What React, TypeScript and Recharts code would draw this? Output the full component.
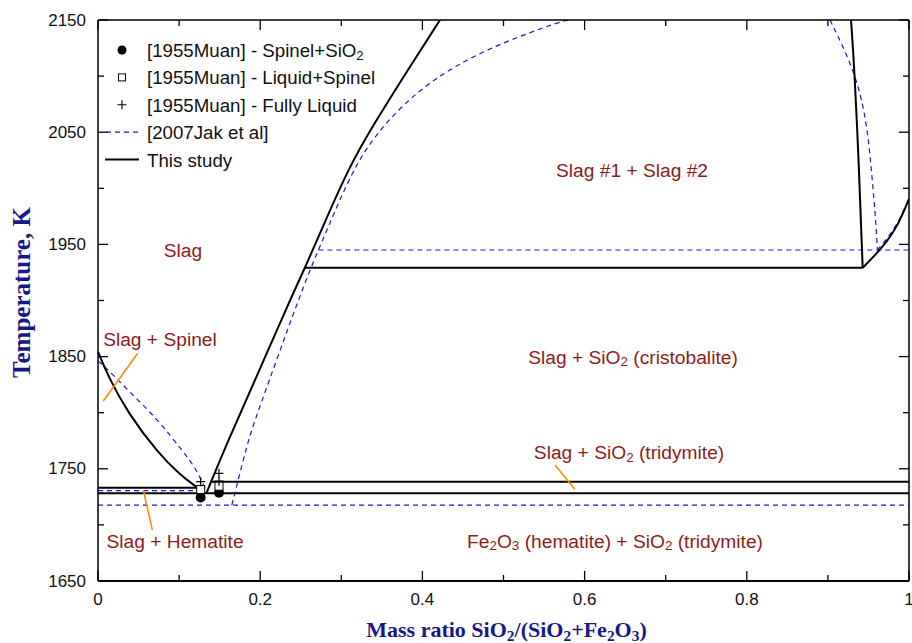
import React from 'react';
import {
  ComposedChart,
  Line,
  Scatter,
  XAxis,
  YAxis,
  Legend,
  ReferenceLine,
  ReferenceDot,
} from 'recharts';

const SANS = 'Arial, "Liberation Sans", sans-serif';
const SERIF = '"Times New Roman", "Liberation Serif", serif';
const TITLE_COLOR = '#17178a';
const REGION_COLOR = '#8b1c1c';
const JAK_BLUE = '#1414f0';
const POINTER_COLOR = '#ff8a00';

// axis ticks (x = SiO2/(SiO2+Fe2O3) mass ratio, t = temperature in K)
const xTicks = [0, 0.1, 0.2, 0.3, 0.4, 0.5, 0.6, 0.7, 0.8, 0.9, 1];
const xLabelled = [0, 0.2, 0.4, 0.6, 0.8, 1];
const yTicks = [1650, 1700, 1750, 1800, 1850, 1900, 1950, 2000, 2050, 2100, 2150];
const yLabelled = [1650, 1750, 1850, 1950, 2050, 2150];

// [1955Muan] measurements
const muanSpinelSiO2 = [
  { x: 0.1266, t: 1724.5 },
  { x: 0.1492, t: 1728.7 },
];
const muanLiquidSpinel = [
  { x: 0.1266, t: 1731.5 },
  { x: 0.1492, t: 1734.5 },
];
const muanFullyLiquid = [
  { x: 0.1266, t: 1738.5 },
  { x: 0.1492, t: 1746 },
  { x: 0.1492, t: 1739 },
];

// This study
const spinelLiquidus = [
  { x: 0, t: 1854.4 },
  { x: 0.0127, t: 1832 },
  { x: 0.037, t: 1799.5 },
  { x: 0.0744, t: 1763.8 },
  { x: 0.099, t: 1746 },
  { x: 0.1196, t: 1734.5 },
  { x: 0.13, t: 1730 },
];
const spinelHematiteLine = [
  { x: 0, t: 1733.2 },
  { x: 0.128, t: 1733.2 },
];
const tridymiteSolidus = [
  { x: 0, t: 1728.2 },
  { x: 1, t: 1728.2 },
];
const tridymiteLiquidus = [
  { x: 0.14, t: 1738.5 },
  { x: 1, t: 1738.5 },
];
const silicaLiquidus = [
  { x: 0.1336, t: 1728.2 },
  { x: 0.1607, t: 1775.7 },
  { x: 0.1936, t: 1829 },
  { x: 0.2408, t: 1907 },
  { x: 0.2552, t: 1929 },
  { x: 0.2737, t: 1960 },
  { x: 0.3107, t: 2020.8 },
  { x: 0.3395, t: 2056.4 },
  { x: 0.3806, t: 2104 },
  { x: 0.4217, t: 2150 },
];
const monotecticLine = [
  { x: 0.2552, t: 1929.2 },
  { x: 0.9429, t: 1929.2 },
];
const gapRightBranch = [
  { x: 0.9285, t: 2150 },
  { x: 0.9326, t: 2108 },
  { x: 0.9383, t: 2019 },
  { x: 0.9412, t: 1960 },
  { x: 0.9429, t: 1929.2 },
];
const cristobaliteLiquidus = [
  { x: 0.9429, t: 1929.2 },
  { x: 0.958, t: 1940.2 },
  { x: 0.9729, t: 1952.7 },
  { x: 0.9864, t: 1967 },
  { x: 1, t: 1990.5 },
];

// [2007Jak et al]
const jakSpinelLiquidus = [
  { x: 0, t: 1846 },
  { x: 0.0086, t: 1841 },
  { x: 0.037, t: 1820 },
  { x: 0.0744, t: 1793.5 },
  { x: 0.103, t: 1766.8 },
  { x: 0.1196, t: 1751.9 },
  { x: 0.133, t: 1731 },
];
const jakSpinelLine = [
  { x: 0, t: 1730.5 },
  { x: 0.133, t: 1730.5 },
];
const jakTridymiteLine = [
  { x: 0, t: 1717.7 },
  { x: 1, t: 1717.7 },
];
const jakSilicaLiquidus = [
  { x: 0.165, t: 1717.7 },
  { x: 0.1853, t: 1775.7 },
  { x: 0.1936, t: 1793.5 },
  { x: 0.251, t: 1909 },
  { x: 0.2717, t: 1945 },
  { x: 0.29, t: 1976 },
  { x: 0.319, t: 2023.7 },
  { x: 0.3518, t: 2056.4 },
  { x: 0.393, t: 2086 },
  { x: 0.438, t: 2108.4 },
  { x: 0.4957, t: 2129.2 },
  { x: 0.5697, t: 2148.5 },
  { x: 0.58, t: 2150 },
];
const jakMonotecticLine = [
  { x: 0.2717, t: 1945 },
  { x: 1, t: 1945 },
];
const jakGapRightBranch = [
  { x: 0.9026, t: 2150 },
  { x: 0.933, t: 2105 },
  { x: 0.9478, t: 2061 },
  { x: 0.954, t: 2013.6 },
  { x: 0.9593, t: 1969 },
  { x: 0.961, t: 1945 },
];
const jakCristobaliteLiquidus = [
  { x: 0.961, t: 1945 },
  { x: 0.975, t: 1957 },
  { x: 0.988, t: 1971 },
  { x: 1, t: 1991 },
];

const studyCurves = [
  spinelLiquidus,
  spinelHematiteLine,
  tridymiteSolidus,
  tridymiteLiquidus,
  silicaLiquidus,
  monotecticLine,
  gapRightBranch,
  cristobaliteLiquidus,
];
const jakCurves = [
  jakSpinelLiquidus,
  jakSpinelLine,
  jakTridymiteLine,
  jakSilicaLiquidus,
  jakMonotecticLine,
  jakGapRightBranch,
  jakCristobaliteLiquidus,
];

// phase field names ("_2" = subscript 2)
const regionLabels = [
  { x: 0.6585, t: 2016, text: 'Slag #1 + Slag #2' },
  { x: 0.1048, t: 1945, text: 'Slag' },
  { x: 0.0764, t: 1866, text: 'Slag + Spinel' },
  { x: 0.6597, t: 1850, text: 'Slag + SiO_2 (cristobalite)' },
  { x: 0.6548, t: 1765, text: 'Slag + SiO_2 (tridymite)' },
  { x: 0.095, t: 1686, text: 'Slag + Hematite' },
  { x: 0.6375, t: 1686, text: 'Fe_2O_3 (hematite) + SiO_2 (tridymite)' },
];

// leader lines from labels to narrow fields
const pointers = [
  [{ x: 0.049, y: 1853 }, { x: 0.0065, y: 1810.4 }],
  [{ x: 0.0559, y: 1731.1 }, { x: 0.067, y: 1695.5 }],
  [{ x: 0.5635, y: 1753.4 }, { x: 0.588, y: 1731.7 }],
];

const legendRows = [
  { name: '[1955Muan] - Spinel+SiO_2', kind: 'circle' },
  { name: '[1955Muan] - Liquid+Spinel', kind: 'square' },
  { name: '[1955Muan] - Fully Liquid', kind: 'plus' },
  { name: '[2007Jak et al]', kind: 'dashed' },
  { name: 'This study', kind: 'solid' },
];

// split "SiO_2" style strings into tspans with subscripts
const chem = (s: string, fs: number) => {
  const parts = s.split(/(_\d)/).filter((p) => p !== '');
  const shift = fs * 0.25;
  let lowered = false;
  return parts.map((p, i) => {
    if (p.startsWith('_')) {
      lowered = true;
      return (
        <tspan key={i} dy={shift} fontSize={fs * 0.7}>
          {p.slice(1)}
        </tspan>
      );
    }
    const dy = lowered ? -shift : 0;
    lowered = false;
    return (
      <tspan key={i} dy={dy}>
        {p}
      </tspan>
    );
  });
};

const MAJOR = 10;
const MINOR = 6;
const LABEL_FS = 19.2;
const LEGEND_FS = 18.7;

const BottomTick = (props: any) => {
  const { x, y, payload } = props;
  const major = xLabelled.includes(payload.value);
  return (
    <g>
      <line x1={x} x2={x} y1={y} y2={y - (major ? MAJOR : MINOR)} stroke="#000" strokeWidth={1.3} />
      {major && (
        <text x={x} y={y + 18} textAnchor="middle" dominantBaseline="central" fontSize={17} fontFamily={SANS} fill="#111">
          {String(payload.value)}
        </text>
      )}
    </g>
  );
};

const TopTick = (props: any) => {
  const { x, y, payload } = props;
  const major = xLabelled.includes(payload.value);
  return <line x1={x} x2={x} y1={y} y2={y + (major ? MAJOR : MINOR)} stroke="#000" strokeWidth={1.3} />;
};

const LeftTick = (props: any) => {
  const { x, y, payload } = props;
  const major = yLabelled.includes(payload.value);
  return (
    <g>
      <line x1={x} x2={x + (major ? MAJOR : MINOR)} y1={y} y2={y} stroke="#000" strokeWidth={1.3} />
      {major && (
        <text x={x - 12} y={y} textAnchor="end" dominantBaseline="central" fontSize={17} fontFamily={SANS} fill="#111">
          {payload.value}
        </text>
      )}
    </g>
  );
};

const RightTick = (props: any) => {
  const { x, y, payload } = props;
  const major = yLabelled.includes(payload.value);
  return <line x1={x} x2={x - (major ? MAJOR : MINOR)} y1={y} y2={y} stroke="#000" strokeWidth={1.3} />;
};

const XTitle = (props: any) => {
  const vb = props.viewBox || { x: 98, y: 581, width: 811, height: 62 };
  return (
    <text
      x={vb.x + vb.width / 2 + 3}
      y={vb.y + 48}
      textAnchor="middle"
      dominantBaseline="central"
      fontFamily={SERIF}
      fontWeight="bold"
      fontSize={22}
      fill={TITLE_COLOR}
    >
      {chem('Mass ratio SiO_2/(SiO_2+Fe_2O_3)', 22)}
    </text>
  );
};

const YTitle = (props: any) => {
  const vb = props.viewBox || { x: 0, y: 20, width: 98, height: 561 };
  const cx = vb.x + 21;
  const cy = vb.y + vb.height / 2 - 8;
  return (
    <text
      x={cx}
      y={cy}
      transform={`rotate(-90 ${cx} ${cy})`}
      textAnchor="middle"
      dominantBaseline="central"
      fontFamily={SERIF}
      fontWeight="bold"
      fontSize={25}
      fill={TITLE_COLOR}
    >
      Temperature, K
    </text>
  );
};

const FilledDot = (p: any) => <circle cx={p.cx} cy={p.cy} r={5} fill="#000" />;
const OpenSquare = (p: any) => (
  <rect x={p.cx - 4} y={p.cy - 4} width={8} height={8} fill="#fff" stroke="#000" strokeWidth={1} />
);
const PlusMark = (p: any) => (
  <path
    d={`M${p.cx - 4.5},${p.cy}H${p.cx + 4.5}M${p.cx},${p.cy - 4.5}V${p.cy + 4.5}`}
    stroke="#000"
    strokeWidth={1.2}
    fill="none"
  />
);

const renderLegend = () => (
  <svg width={340} height={140} style={{ overflow: 'visible' }}>
    {legendRows.map((row, i) => {
      const cy = 14 + i * 27.4;
      let symbol: React.ReactNode = null;
      if (row.kind === 'circle') symbol = <circle cx={22} cy={cy} r={4.5} fill="#000" />;
      if (row.kind === 'square')
        symbol = <rect x={18.5} y={cy - 3.5} width={7} height={7} fill="#fff" stroke="#000" strokeWidth={1} />;
      if (row.kind === 'plus')
        symbol = <path d={`M17.5,${cy}H26.5M22,${cy - 4.5}V${cy + 4.5}`} stroke="#000" strokeWidth={1.1} />;
      if (row.kind === 'dashed')
        symbol = <line x1={6} x2={39} y1={cy} y2={cy} stroke={JAK_BLUE} strokeWidth={1.2} strokeDasharray="5 4" />;
      if (row.kind === 'solid') symbol = <line x1={5} x2={39} y1={cy} y2={cy} stroke="#000" strokeWidth={2} />;
      return (
        <g key={row.name}>
          {symbol}
          <text x={47} y={cy} dominantBaseline="central" fontSize={LEGEND_FS} fontFamily={SANS} fill="#111">
            {chem(row.name, LEGEND_FS)}
          </text>
        </g>
      );
    })}
  </svg>
);

export default function App() {
  return (
    <div style={{ position: 'absolute', left: 0, top: 0, width: 912, height: 643, background: '#fff' }}>
      <ComposedChart width={912} height={643} margin={{ top: 0, right: 0, bottom: 0, left: 0 }}>
        <XAxis
          dataKey="x"
          type="number"
          domain={[0, 1]}
          ticks={xTicks}
          interval={0}
          allowDataOverflow
          height={62}
          tickSize={0}
          tickMargin={0}
          tick={BottomTick}
          axisLine={{ stroke: '#000', strokeWidth: 2 }}
          label={{ content: XTitle }}
        />
        <XAxis
          xAxisId="top"
          orientation="top"
          dataKey="x"
          type="number"
          domain={[0, 1]}
          ticks={xTicks}
          interval={0}
          allowDataOverflow
          height={20}
          tickSize={0}
          tickMargin={0}
          tick={TopTick}
          axisLine={{ stroke: '#000', strokeWidth: 1.5 }}
        />
        <YAxis
          dataKey="t"
          type="number"
          domain={[1650, 2150]}
          ticks={yTicks}
          interval={0}
          allowDataOverflow
          width={98}
          tickSize={0}
          tickMargin={0}
          tick={LeftTick}
          axisLine={{ stroke: '#000', strokeWidth: 1.5 }}
          label={{ content: YTitle }}
        />
        <YAxis
          yAxisId="right"
          orientation="right"
          dataKey="t"
          type="number"
          domain={[1650, 2150]}
          ticks={yTicks}
          interval={0}
          allowDataOverflow
          width={3}
          tickSize={0}
          tickMargin={0}
          tick={RightTick}
          axisLine={{ stroke: '#000', strokeWidth: 1.5 }}
        />

        {jakCurves.map((d, i) => (
          <Line
            key={`jak-${i}`}
            data={d}
            dataKey="t"
            type="basis"
            stroke={JAK_BLUE}
            strokeWidth={1.2}
            strokeDasharray="5 4"
            dot={false}
            activeDot={false}
            legendType="none"
            isAnimationActive={false}
          />
        ))}
        {studyCurves.map((d, i) => (
          <Line
            key={`study-${i}`}
            data={d}
            dataKey="t"
            type="basis"
            stroke="#000"
            strokeWidth={2}
            dot={false}
            activeDot={false}
            legendType="none"
            isAnimationActive={false}
          />
        ))}

        {pointers.map((seg, i) => (
          <ReferenceLine key={`ptr-${i}`} segment={seg} stroke={POINTER_COLOR} strokeWidth={1.5} />
        ))}

        <Scatter data={muanSpinelSiO2} dataKey="t" shape={FilledDot} legendType="none" isAnimationActive={false} />
        <Scatter data={muanLiquidSpinel} dataKey="t" shape={OpenSquare} legendType="none" isAnimationActive={false} />
        <Scatter data={muanFullyLiquid} dataKey="t" shape={PlusMark} legendType="none" isAnimationActive={false} />

        {regionLabels.map((r) => (
          <ReferenceDot
            key={r.text}
            x={r.x}
            y={r.t}
            r={0}
            isFront
            shape={(p: any) => (
              <text
                x={p.cx}
                y={p.cy}
                textAnchor="middle"
                dominantBaseline="central"
                fontSize={LABEL_FS}
                fontFamily={SANS}
                fill={REGION_COLOR}
              >
                {chem(r.text, LABEL_FS)}
              </text>
            )}
          />
        ))}

        <Legend
          layout="vertical"
          align="center"
          verticalAlign="middle"
          content={renderLegend}
          wrapperStyle={{ top: 36, left: 100, width: 340, height: 140 }}
        />
      </ComposedChart>
    </div>
  );
}
